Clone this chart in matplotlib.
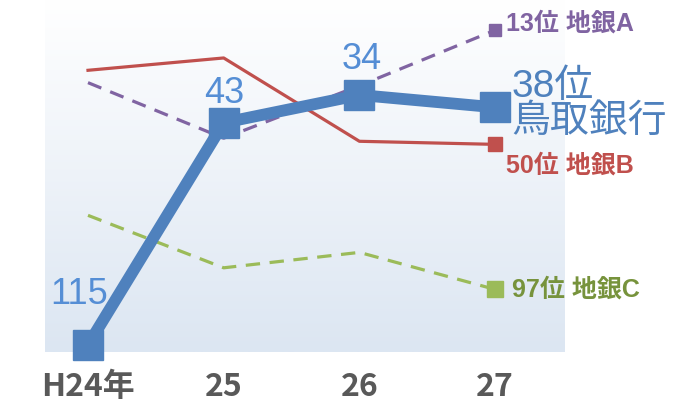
import numpy as np
import matplotlib.pyplot as plt

# data (rank, lower is better)
years = ['H24年', '25', '26', '27']
tottori = [115, 43, 34, 38]
bank_a = [30, 48, 31, 13]
bank_b = [26, 22, 49, 50]
bank_c = [73, 90, 85, 97]
names = ['地銀A', '地銀B', '地銀C']

jp = ['Liberation Sans', 'Noto Sans CJK JP']

fig = plt.figure(figsize=(6.73, 4.09), dpi=100)
ax = fig.add_axes([0, 0, 1, 1])
ax.set_xlim(-0.6485, 4.311)
ax.set_ylim(135.75, 3.22)
ax.axis('off')

# gradient background panel
grad = np.linspace(0, 1, 256).reshape(-1, 1)
top = np.array([1.0, 1.0, 1.0])
bot = np.array([220, 230, 242]) / 255
img = top + grad[:, :, None] * (bot - top)
ax.imshow(img, extent=[-0.317, 3.515, 117.3, 3.22], aspect='auto', zorder=0)

x = np.arange(len(years))

ax.plot(x, bank_b, color='#c0504d', lw=2.3, marker='s', ms=10, markevery=[3], zorder=2)
ax.plot(x, bank_a, color='#8064a2', lw=2.3, ls=(0, (4.5, 3)), marker='s', ms=9, markevery=[3], zorder=2)
ax.plot(x, bank_c, color='#9bbb59', lw=2.3, ls=(0, (4.5, 3)), marker='s', ms=11, markevery=[3], zorder=2)
ax.plot(x, tottori, color='#4f81bd', lw=8.5, marker='s', ms=21, zorder=3)

# value labels for tottori
offs = [(-6.5, 29.5), (0, 14.5), (2, 19)]
for i in range(3):
    ax.annotate(str(tottori[i]), (x[i], tottori[i]), xytext=offs[i], textcoords='offset points',
                ha='center', va='baseline', color='#558ed5', fontsize=26, family=jp)
ax.annotate(f'{tottori[3]}位\n鳥取銀行', (x[3], tottori[3]), xytext=(12, 2), textcoords='offset points',
            ha='left', va='center', color='#4f81bd', fontsize=28, family=jp, linespacing=0.95)

ax.annotate(f'{bank_a[3]}位 {names[0]}', (x[3], bank_a[3]), xytext=(8, 5), textcoords='offset points',
            ha='left', va='center', color='#8064a2', fontsize=18, family=jp, fontweight='bold')
ax.annotate(f'{bank_b[3]}位 {names[1]}', (x[3], bank_b[3]), xytext=(8, -15), textcoords='offset points',
            ha='left', va='center', color='#c0504d', fontsize=18, family=jp, fontweight='bold')
ax.annotate(f'{bank_c[3]}位 {names[2]}', (x[3], bank_c[3]), xytext=(12, 0), textcoords='offset points',
            ha='left', va='center', color='#77933c', fontsize=18, family=jp, fontweight='bold')

for i, lab in enumerate(years):
    ax.text(x[i], 128.6, lab, ha='center', va='center', fontsize=23, color='#595959',
            family=['Liberation Sans Narrow', 'Noto Sans CJK JP'], fontweight='bold')

fig.savefig('out.png', dpi=100)
